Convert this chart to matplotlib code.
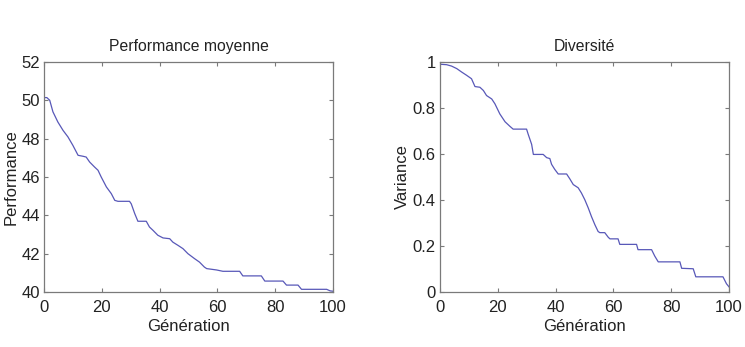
import matplotlib.pyplot as plt

plt.rcParams['font.family'] = ['Liberation Sans', 'DejaVu Sans']

# performance moyenne (vertices)
gen_perf = [0, 1, 2, 3.1, 4.8, 6.6, 8.3, 10, 11.8, 13.5, 14.6, 15.8, 17.5, 18.7, 19.8,
            21.6, 23.3, 24.5, 25.6, 29.6, 30.2, 31.4, 32.5, 35.4, 36.5, 37.7, 39.4,
            41.2, 43.5, 44.6, 46.4, 48.1, 49.8, 52.1, 53.8, 55.5, 56.3, 59.7, 61.9,
            67.7, 68.8, 75.2, 76.4, 82.7, 83.9, 87.9, 89.1, 97.8, 99, 100]
perf = [50.14, 50.14, 50.0, 49.4, 48.87, 48.43, 48.09, 47.65, 47.13, 47.08, 47.04,
        46.78, 46.52, 46.35, 46.0, 45.48, 45.13, 44.78, 44.73, 44.73, 44.6, 44.09,
        43.69, 43.69, 43.39, 43.22, 42.96, 42.82, 42.78, 42.6, 42.43, 42.26, 42.0,
        41.74, 41.56, 41.3, 41.22, 41.15, 41.08, 41.08, 40.84, 40.84, 40.57, 40.57,
        40.36, 40.36, 40.14, 40.14, 40.06, 40.04]

# diversite
gen_var = [0, 2.3, 4, 5.8, 7.5, 9.2, 10.9, 12.1, 13.8, 15, 16.1, 17.9, 19, 20.7, 22.5,
           24.2, 25.3, 29.95, 30.5, 31.7, 32.3, 35.7, 36.9, 38, 38.6, 39.7, 40.9,
           43.8, 44.9, 46.1, 47.8, 48.9, 50.1, 51.3, 52.4, 53.6, 54.7, 55.3, 57,
           58.2, 58.8, 61.6, 62.2, 68, 68.5, 73.2, 74.3, 75.5, 83, 83.6, 87.6, 88.5,
           97.9, 99.1, 100]
var = [0.99, 0.988, 0.982, 0.971, 0.956, 0.942, 0.927, 0.893, 0.89, 0.876, 0.854,
       0.839, 0.818, 0.774, 0.74, 0.72, 0.708, 0.708, 0.686, 0.642, 0.598, 0.598,
       0.584, 0.58, 0.555, 0.533, 0.513, 0.513, 0.492, 0.467, 0.453, 0.431, 0.401,
       0.365, 0.328, 0.292, 0.263, 0.258, 0.258, 0.238, 0.231, 0.231, 0.207, 0.207,
       0.184, 0.184, 0.156, 0.131, 0.131, 0.103, 0.101, 0.066, 0.066, 0.036, 0.022]

x_ticks = [0, 20, 40, 60, 80, 100]
perf_ticks = [40, 42, 44, 46, 48, 50, 52]
var_ticks = [0, 0.2, 0.4, 0.6, 0.8, 1]
var_labels = ['0', '0.2', '0.4', '0.6', '0.8', '1']

line_col = '#5858b8'
txt_col = '#222222'
spine_col = '#7a7a7a'

fig = plt.figure(figsize=(7.45, 3.47), dpi=100)
ax1 = fig.add_axes([0.059, 0.1585, 0.388, 0.663])
ax2 = fig.add_axes([0.5906, 0.1585, 0.388, 0.663])


def style(ax):
    for s in ax.spines.values():
        s.set_color(spine_col)
        s.set_linewidth(0.9)
    ax.tick_params(direction='in', length=3, width=0.8, color=spine_col,
                   top=True, right=True, labelsize=12, labelcolor=txt_col)
    ax.tick_params(axis='x', pad=6)
    ax.tick_params(axis='y', pad=3)


ax1.plot(gen_perf, perf, color=line_col, lw=0.9)
ax1.set_xlim(0, 100)
ax1.set_ylim(40, 52)
ax1.set_xticks(x_ticks)
ax1.set_yticks(perf_ticks)
ax1.set_title('Performance moyenne', fontsize=11.3, color=txt_col, pad=8)
ax1.set_xlabel('Génération', fontsize=12, color=txt_col, labelpad=2.5)
ax1.set_ylabel('Performance', fontsize=12, color=txt_col, labelpad=2)
style(ax1)

ax2.plot(gen_var, var, color=line_col, lw=0.9)
ax2.set_xlim(0, 100)
ax2.set_ylim(0, 1)
ax2.set_xticks(x_ticks)
ax2.set_yticks(var_ticks)
ax2.set_yticklabels(var_labels)
ax2.set_title('Diversité', fontsize=11.3, color=txt_col, pad=8)
ax2.set_xlabel('Génération', fontsize=12, color=txt_col, labelpad=2.5)
ax2.set_ylabel('Variance', fontsize=12, color=txt_col, labelpad=2)
style(ax2)

fig.savefig('out.png', dpi=100)
